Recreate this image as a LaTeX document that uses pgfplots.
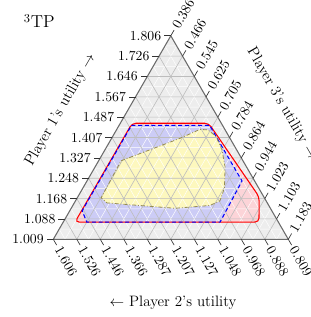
\documentclass[border=0pt]{standalone}
\usepackage{pgfplots}
\pgfplotsset{compat=1.18}
\usepackage{pgfplotstable}

% feasible utility regions (u1+u2+u3 = 3)
\pgfplotstableread{
u1    u2     u3
1.463 1.1115 0.426
1.463 0.852  0.686
1.175 0.825  1.001
1.076 0.875  1.050
1.076 1.4985 0.426
}\redregion

\pgfplotstableread{
u1    u2     u3
1.455 1.1175 0.428
1.455 0.8525 0.693
1.237 0.852  0.912
1.076 1.007  0.918
1.076 1.459  0.466
1.120 1.4525 0.428
}\blueregion

\pgfplotstableread{
u1    u2    u3
1.316 1.223 0.462
1.404 0.979 0.618
1.439 0.894 0.668
1.437 0.868 0.696
1.412 0.853 0.736
1.359 0.859 0.783
1.292 0.882 0.827
1.210 0.925 0.866
1.159 0.966 0.876
1.141 1.009 0.851
1.130 1.133 0.738
1.151 1.353 0.497
1.171 1.363 0.467
}\yellowregion

\def\TX{(\thisrow{u3}-0.386)/0.7972+0.5*(\thisrow{u1}-1.0085)/0.7972}
\def\TY{0.8660254*(\thisrow{u1}-1.0085)/0.7972}

\pgfplotsset{
  ternbox/.style={
    at={(0pt,0pt)}, anchor=south west,
    width=176.25pt, height=152.63pt, scale only axis,
    xmin=0, xmax=1, ymin=0, ymax=0.8660254,
    axis lines=none, clip=false,
  },
}
\definecolor{gridgray}{gray}{0.74}
\definecolor{bordergray}{gray}{0.42}
\definecolor{bggray}{gray}{0.93}
\definecolor{pinkfill}{RGB}{252,212,216}
\definecolor{lavfill}{RGB}{204,204,246}
\definecolor{yelfill}{RGB}{253,248,190}
\definecolor{olivel}{RGB}{150,140,80}

\begin{document}
\begin{tikzpicture}
\fill[bggray] (0pt,0pt) -- (176.25pt,0pt) -- (88.125pt,152.63pt) -- cycle;
\begin{axis}[ternbox]
  \addplot[draw=none, fill=pinkfill, rounded corners=3pt] table[x expr=\TX, y expr=\TY] {\redregion} -- cycle;
  \addplot[draw=none, fill=lavfill] table[x expr=\TX, y expr=\TY] {\blueregion} -- cycle;
  \addplot[draw=none, fill=yelfill] table[x expr=\TX, y expr=\TY] {\yellowregion} -- cycle;
\end{axis}
\begin{scope}[x={(176.25pt,0pt)}, y={(88.125pt,152.63pt)}]
  \foreach \t in {0.05,0.15,0.25,0.35,0.45,0.55,0.65,0.75,0.85,0.95} {
    \draw[white, line width=0.35pt] (0,\t) -- ({1-\t},\t) (\t,0) -- (\t,{1-\t}) (\t,0) -- (0,\t);
  }
  \foreach \t in {0.1,0.2,0.3,0.4,0.5,0.6,0.7,0.8,0.9} {
    \draw[gridgray, line width=0.45pt] (0,\t) -- ({1-\t},\t) (\t,0) -- (\t,{1-\t}) (\t,0) -- (0,\t);
  }
  \draw[bordergray, line width=0.8pt, line join=round] (0,0) -- (1,0) -- (0,1) -- cycle;
  \begin{scope}[font=\fontsize{10.3}{12}\selectfont]
  \foreach \k/\lab in {0/1.009,1/1.088,2/1.168,3/1.248,4/1.327,5/1.407,6/1.487,7/1.567,8/1.646,9/1.726,10/1.806} {
    \draw[black!80, line width=0.5pt] (0,\k/10) -- ++(180:5pt) node[anchor=east, inner sep=2pt, black] {\lab};
  }
  \foreach \k/\lab in {0/1.606,1/1.526,2/1.446,3/1.366,4/1.287,5/1.207,6/1.127,7/1.048,8/0.968,9/0.888,10/0.809} {
    \draw[black!80, line width=0.5pt] (\k/10,0) -- ++(-60:5pt) node[anchor=west, rotate=-60, inner sep=2pt, black] {\lab};
  }
  \foreach \k/\lab in {0/0.386,1/0.466,2/0.545,3/0.625,4/0.705,5/0.784,6/0.864,7/0.944,8/1.023,9/1.103,10/1.183} {
    \draw[black!80, line width=0.5pt] (\k/10,{1-\k/10}) -- ++(60:5pt) node[anchor=west, rotate=60, inner sep=2pt, black] {\lab};
  }
  \end{scope}
  \begin{scope}[font=\fontsize{11.3}{13}\selectfont]
  \node[rotate=60] at (5.5pt,97pt) {Player 1's utility $\rightarrow$};
  \node[rotate=-60] at (171.5pt,101.5pt) {Player 3's utility $\rightarrow$};
  \node at (89.8pt,-47.8pt) {$\leftarrow$ Player 2's utility};
  \node[font=\fontsize{13}{15}\selectfont] at (-10.5pt,163.7pt) {\textsuperscript{3}TP};
  \end{scope}
\end{scope}
\begin{axis}[ternbox]
  \addplot[red, line width=0.8pt, rounded corners=3pt] table[x expr=\TX, y expr=\TY] {\redregion} -- cycle;
  \addplot[blue, line width=0.8pt, dash pattern=on 3pt off 2pt] table[x expr=\TX, y expr=\TY] {\blueregion} -- cycle;
  \addplot[olivel, line width=0.6pt, dash pattern=on 3pt off 1.5pt on 0.6pt off 1.5pt] table[x expr=\TX, y expr=\TY] {\yellowregion} -- cycle;
\end{axis}
\pgfresetboundingbox
\path[use as bounding box] (-39.975pt,-58.275pt) rectangle (192.525pt,179.475pt);
\end{tikzpicture}
\end{document}
